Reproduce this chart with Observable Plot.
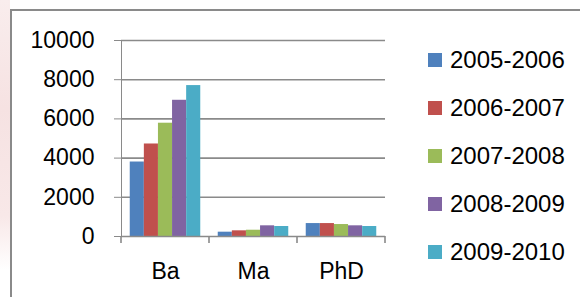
<!DOCTYPE html>
<html>
<head>
<meta charset="utf-8">
<script src="https://cdn.jsdelivr.net/npm/d3@7"></script>
<script src="https://cdn.jsdelivr.net/npm/@observablehq/plot@0.6"></script>
<style>
  html, body { margin: 0; padding: 0; background: #fff; }
  #wrap { position: relative; width: 580px; height: 297px; overflow: hidden; font-family: "Liberation Sans", Arial, sans-serif; }
  #wm { position: absolute; left: 0; top: 0; width: 10px; height: 270px; background: linear-gradient(180deg, #f9eded 0%, #f6e2e2 40%, #f8e8e8 80%, #fff 100%); }
  #frame { position: absolute; left: 10px; top: 9px; width: 600px; height: 320px; border-left: 2px solid #8a8a8a; border-top: 2px solid #8a8a8a; }
  #chart { position: absolute; left: 0; top: 0; }
  #chart svg text { fill: #000; }
  #legend { position: absolute; left: 428px; top: 36px; }
  .row { display: flex; align-items: center; height: 48px; font-size: 24px; color: #000; }
  .sw { width: 14px; height: 14px; margin-right: 8px; }
</style>
</head>
<body>
<div id="wrap">
  <div id="wm"></div>
  <div id="frame"></div>
  <div id="chart"></div>
  <div id="legend"></div>
</div>
<script>
const categories = ["Ba", "Ma", "PhD"];
const series = ["2005-2006", "2006-2007", "2007-2008", "2008-2009", "2009-2010"];
const s2005_2006 = [3800, 220, 660];
const s2006_2007 = [4720, 290, 660];
const s2007_2008 = [5780, 320, 610];
const s2008_2009 = [6950, 545, 545];
const s2009_2010 = [7700, 510, 510];
const yTicks = [0, 2000, 4000, 6000, 8000, 10000];
const colors = ["#4F81BD", "#C0504D", "#9BBB59", "#8064A2", "#4BACC6"];

const seriesValues = [s2005_2006, s2006_2007, s2007_2008, s2008_2009, s2009_2010];
const data = categories.flatMap((c, i) =>
  series.map((s, j) => ({ category: c, series: s, value: seriesValues[j][i] }))
);

const grey = "#8a8a8a";
const plot = Plot.plot({
  width: 580,
  height: 297,
  marginLeft: 120,
  marginRight: 195,
  marginTop: 40,
  marginBottom: 61,
  style: { fontFamily: "'Liberation Sans', Arial, sans-serif", fontSize: "23px", color: grey, background: "transparent", overflow: "visible" },
  fx: { domain: categories, padding: 0, label: null, tickSize: 0, tickPadding: 26, axis: "bottom" },
  x: { domain: series, axis: null, paddingInner: 0, paddingOuter: 0.62, round: false },
  y: { domain: [0, 10000], ticks: yTicks, tickFormat: d3.format("d"), tickSize: 7, tickPadding: 20, label: null, line: true },
  color: { domain: series, range: colors },
  marks: [
    Plot.ruleY(yTicks.filter(d => d > 0), { stroke: grey, strokeWidth: 1.6 }),
    Plot.barY(data, { fx: "category", x: "series", y: "value", fill: "series" }),
    Plot.ruleY([0], { stroke: grey, strokeWidth: 1.6 })
  ]
});

// category boundary tick marks derived from the plot's own scales
const fx = plot.scale("fx");
const ys = plot.scale("y");
const y0 = ys.apply(0);
const bounds = categories.map(c => fx.apply(c));
bounds.push(fx.apply(categories[categories.length - 1]) + fx.bandwidth);
const g = d3.select(plot).append("g").attr("stroke", grey).attr("stroke-width", 1.6);
bounds.forEach(bx => {
  g.append("line").attr("x1", bx).attr("x2", bx).attr("y1", y0).attr("y2", y0 + 7);
});

document.getElementById("chart").appendChild(plot);

// legend
const legend = d3.select("#legend");
series.forEach((s, i) => {
  const row = legend.append("div").attr("class", "row");
  row.append("div").attr("class", "sw").style("background", colors[i]);
  row.append("span").text(s);
});
</script>
</body>
</html>
